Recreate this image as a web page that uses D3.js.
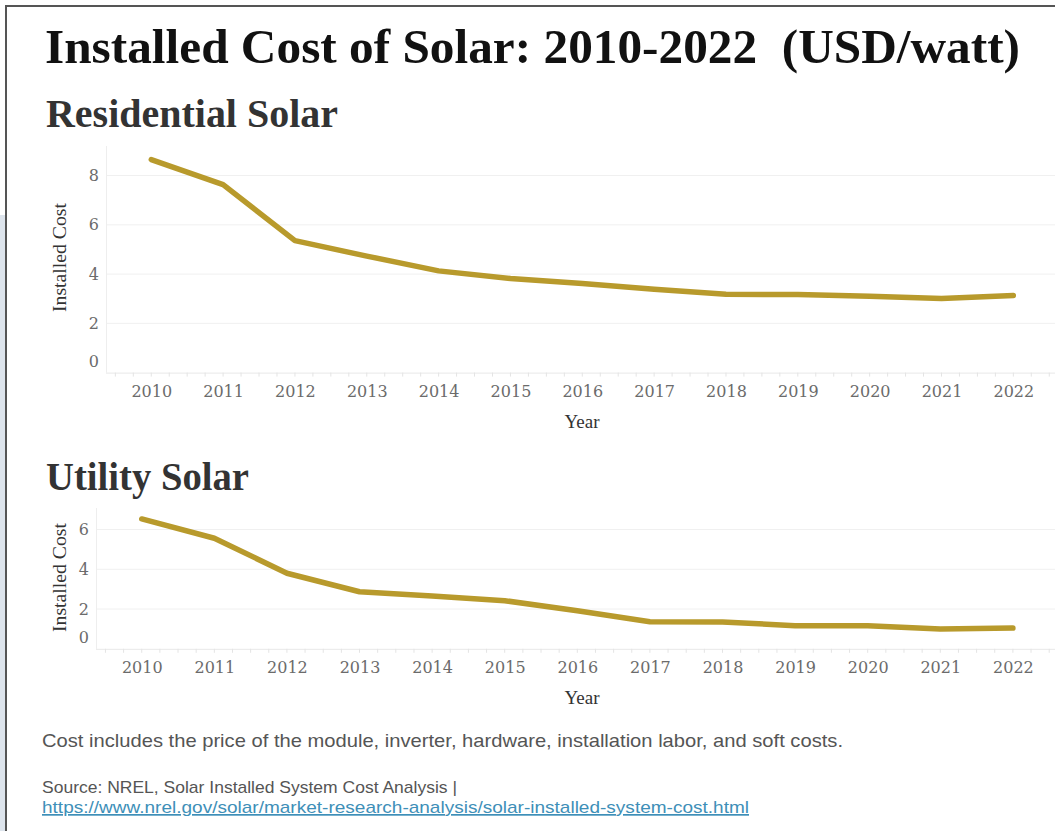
<!DOCTYPE html>
<html>
<head>
<meta charset="utf-8">
<script src="https://cdn.jsdelivr.net/npm/d3@7"></script>
<style>
  html, body { margin: 0; padding: 0; background: #fff; }
  svg { display: block; }
  text { white-space: pre; }
</style>
</head>
<body>
<svg id="chart" width="1055" height="831"></svg>
<script>
// Installed cost of solar, USD per watt (NREL)
const years = [2010, 2011, 2012, 2013, 2014, 2015, 2016, 2017, 2018, 2019, 2020, 2021, 2022];
const residentialCost = [8.65, 7.63, 5.36, 4.73, 4.13, 3.82, 3.62, 3.38, 3.18, 3.17, 3.10, 3.01, 3.13];
const utilityCost = [6.53, 5.56, 3.80, 2.87, 2.65, 2.42, 1.91, 1.36, 1.35, 1.16, 1.16, 0.99, 1.04];
const residentialTicks = [0, 2, 4, 6, 8];
const utilityTicks = [0, 2, 4, 6];
const yearTicks = years;

const titleText = "Installed Cost of Solar: 2010-2022  (USD/watt)";
const noteText = "Cost includes the price of the module, inverter, hardware, installation labor, and soft costs.";
const sourceText = "Source: NREL, Solar Installed System Cost Analysis |";
const sourceUrl = "https://www.nrel.gov/solar/market-research-analysis/solar-installed-system-cost.html";

const LINE_COLOR = "#b89a2c";
const SERIF = "'DejaVu Serif', serif";
const HEAD = "'Liberation Serif', 'Times New Roman', serif";
const SANS = "'Liberation Sans', Arial, sans-serif";

const svg = d3.select("#chart");

// page frame: pale side band, dark left and top rules
svg.append("rect").attr("x", 0).attr("y", 215).attr("width", 5).attr("height", 616).attr("fill", "#dde4ec");
svg.append("line").attr("x1", 6).attr("x2", 6).attr("y1", 5).attr("y2", 831)
  .attr("stroke", "#555").attr("stroke-width", 2);
svg.append("line").attr("x1", 5).attr("x2", 1055).attr("y1", 6).attr("y2", 6)
  .attr("stroke", "#555").attr("stroke-width", 2);

// headings
svg.append("text").attr("x", 45).attr("y", 63)
  .attr("font-family", HEAD).attr("font-weight", "bold").attr("font-size", 49)
  .attr("fill", "#111").attr("textLength", 975).attr("lengthAdjust", "spacingAndGlyphs")
  .text(titleText);

function panel(opts) {
  const { label, labelY, labelW, values, ticks, yMax, left, top, bottom, yTitleRange } = opts;
  const x = d3.scaleLinear().domain([2009.37, 2022.58]).range([left, 1055]);
  const y = d3.scaleLinear().domain([0, yMax]).range([bottom, top]);

  svg.append("text").attr("x", 46).attr("y", labelY)
    .attr("font-family", HEAD).attr("font-weight", "bold").attr("font-size", 39)
    .attr("fill", "#333").attr("textLength", labelW).attr("lengthAdjust", "spacingAndGlyphs")
    .text(label);

  const g = svg.append("g");

  // horizontal gridlines
  g.selectAll("line.grid").data(ticks.filter(d => d > 0)).join("line")
    .attr("class", "grid")
    .attr("x1", left).attr("x2", 1055)
    .attr("y1", d => y(d)).attr("y2", d => y(d))
    .attr("stroke", "#f0f0f0").attr("stroke-width", 1);

  // axis rules
  g.append("line").attr("x1", left + 0.5).attr("x2", left + 0.5).attr("y1", top).attr("y2", bottom)
    .attr("stroke", "#eeeeee");
  g.append("line").attr("x1", left).attr("x2", 1055).attr("y1", bottom + 0.5).attr("y2", bottom + 0.5)
    .attr("stroke", "#e8e8e8");

  // quarter-year tick marks along the bottom
  const quarters = d3.range(2009.5, 2022.6, 0.25);
  g.selectAll("line.qt").data(quarters).join("line")
    .attr("class", "qt")
    .attr("x1", d => x(d)).attr("x2", d => x(d))
    .attr("y1", bottom).attr("y2", bottom + 4)
    .attr("stroke", "#e4e4e4");

  // y axis labels
  const yAxis = g.append("g").attr("transform", `translate(${left - 7},0)`)
    .call(d3.axisLeft(y).tickValues(ticks).tickSize(0).tickPadding(0).tickFormat(d3.format("d")));
  yAxis.select(".domain").remove();
  yAxis.selectAll("text").attr("font-family", SERIF).attr("font-size", 16).attr("fill", "#6b6b6b")
    .attr("dy", d => d === 0 ? "-0.4em" : "0.32em");

  // x axis labels
  const xAxis = g.append("g").attr("transform", `translate(0,${bottom})`)
    .call(d3.axisBottom(x).tickValues(yearTicks).tickSize(0).tickPadding(13).tickFormat(d3.format("d")));
  xAxis.select(".domain").remove();
  xAxis.selectAll("text").attr("font-family", SERIF).attr("font-size", 16).attr("fill", "#6b6b6b");

  // axis titles
  g.append("text")
    .attr("transform", `translate(66,${(yTitleRange[0] + yTitleRange[1]) / 2}) rotate(-90)`)
    .attr("text-anchor", "middle")
    .attr("font-family", HEAD).attr("font-size", 18).attr("fill", "#333")
    .attr("textLength", yTitleRange[1] - yTitleRange[0]).attr("lengthAdjust", "spacingAndGlyphs")
    .text("Installed Cost");
  g.append("text").attr("x", 582).attr("y", bottom + 55)
    .attr("text-anchor", "middle")
    .attr("font-family", HEAD).attr("font-size", 19).attr("fill", "#333")
    .text("Year");

  // cost line
  const line = d3.line().x((d, i) => x(years[i])).y(d => y(d));
  g.append("path").datum(values)
    .attr("d", line)
    .attr("fill", "none")
    .attr("stroke", LINE_COLOR)
    .attr("stroke-width", 5.5)
    .attr("stroke-linejoin", "round")
    .attr("stroke-linecap", "round");
}

panel({
  label: "Residential Solar", labelY: 127, labelW: 292,
  values: residentialCost, ticks: residentialTicks, yMax: 9.2,
  left: 106, top: 146, bottom: 372.6, yTitleRange: [203, 312]
});

panel({
  label: "Utility Solar", labelY: 490, labelW: 203,
  values: utilityCost, ticks: utilityTicks, yMax: 7.08,
  left: 96, top: 508, bottom: 648.8, yTitleRange: [523, 632]
});

// notes and source
svg.append("text").attr("x", 42).attr("y", 747)
  .attr("font-family", SANS).attr("font-size", 19).attr("fill", "#555")
  .attr("textLength", 801).attr("lengthAdjust", "spacingAndGlyphs")
  .text(noteText);
svg.append("text").attr("x", 42).attr("y", 793)
  .attr("font-family", SANS).attr("font-size", 17).attr("fill", "#555")
  .attr("textLength", 415).attr("lengthAdjust", "spacingAndGlyphs")
  .text(sourceText);
svg.append("text").attr("x", 42).attr("y", 813)
  .attr("font-family", SANS).attr("font-size", 17).attr("fill", "#3e8fb8")
  .attr("text-decoration", "underline")
  .attr("textLength", 707).attr("lengthAdjust", "spacingAndGlyphs")
  .text(sourceUrl);
</script>
</body>
</html>
